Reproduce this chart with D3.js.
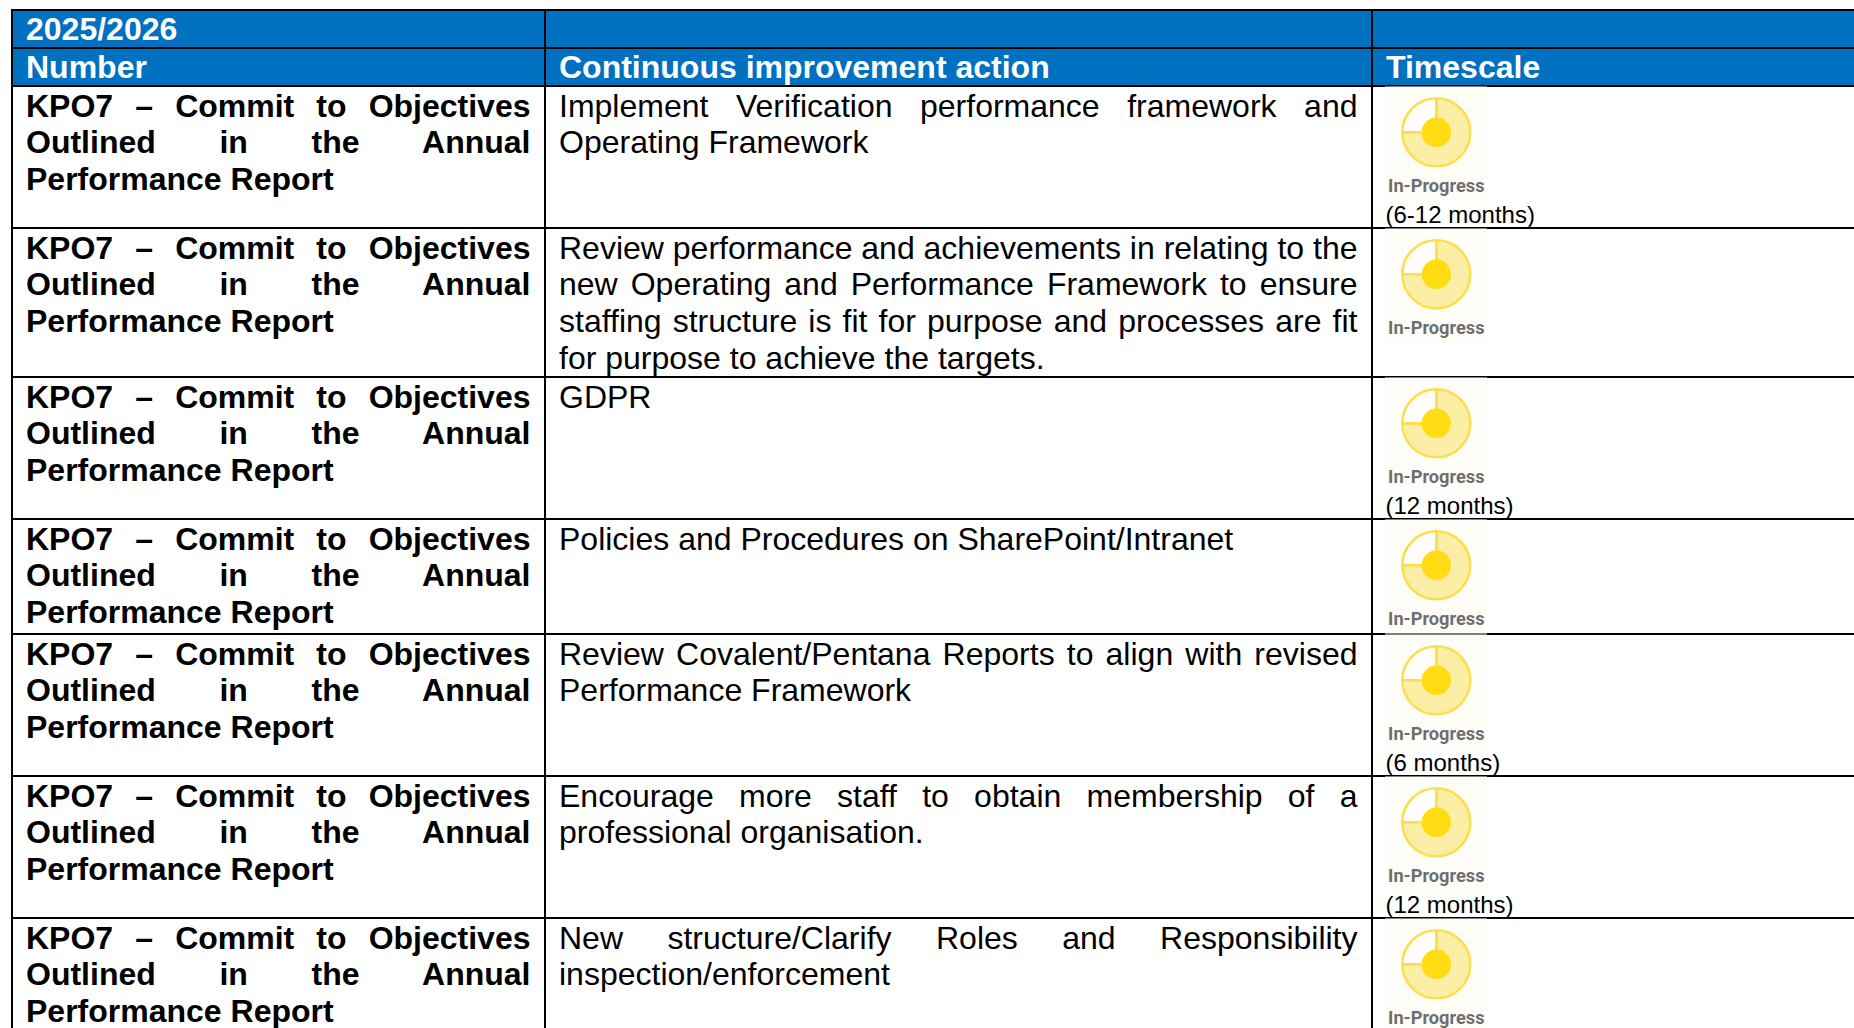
<!DOCTYPE html>
<html>
<head>
<meta charset="utf-8">
<script src="https://cdn.jsdelivr.net/npm/d3@7"></script>
<style>
html, body { margin: 0; padding: 0; background: #fff; overflow: hidden; }
svg { display: block; }
text { font-family: "Liberation Sans", Arial, sans-serif; }
</style>
</head>
<body>
<svg id="vis"></svg>
<script>
const yearLabel = '2025/2026';
const headers = ['Number', 'Continuous improvement action', 'Timescale'];
const numberLines = ['KPO7 \u2013 Commit to Objectives', 'Outlined in the Annual', 'Performance Report'];
const actions = [
  ['Implement Verification performance framework and', 'Operating Framework'],
  ['Review performance and achievements in relating to the', 'new Operating and Performance Framework to ensure', 'staffing structure is fit for purpose and processes are fit', 'for purpose to achieve the targets.'],
  ['GDPR'],
  ['Policies and Procedures on SharePoint/Intranet'],
  ['Review Covalent/Pentana Reports to align with revised', 'Performance Framework'],
  ['Encourage more staff to obtain membership of a', 'professional organisation.'],
  ['New structure/Clarify Roles and Responsibility', 'inspection/enforcement']
];
const timescales = ['(6-12 months)', '', '(12 months)', '', '(6 months)', '(12 months)', ''];
const statusLabel = 'In-Progress';
const rowKeys = ['year', 'head', 'r0', 'r1', 'r2', 'r3', 'r4', 'r5', 'r6', 'end'];
const colKeys = ['number', 'action', 'time', 'end'];

const width = 1854;
const height = 1028;
const fontSize = 32;
const lineHeight = 36.8;
const blue = '#0070c0';

const rowY = d3.scaleOrdinal().domain(rowKeys).range([10, 48, 86, 228, 377, 519, 634, 776, 918, 1060]);
const colX = d3.scaleOrdinal().domain(colKeys).range([12, 545, 1372, 1856]);
const colPad = 14;

const svg = d3.select('#vis').attr('width', width).attr('height', height).attr('viewBox', `0 0 ${width} ${height}`);

// header bands
svg.append('rect').attr('x', colX('number')).attr('y', rowY('year')).attr('width', width - colX('number')).attr('height', rowY('r0') - rowY('year')).attr('fill', blue);

const textLayer = svg.append('g');

textLayer.append('text')
  .attr('x', colX('number') + colPad)
  .attr('y', rowY('year') + 29.5)
  .attr('font-size', fontSize).attr('font-weight', 'bold').attr('fill', '#fff')
  .text(yearLabel);
textLayer.selectAll('text.head').data(headers).enter().append('text')
  .attr('class', 'head')
  .attr('x', (d, i) => colX(colKeys[i]) + colPad)
  .attr('y', rowY('head') + 29.5)
  .attr('font-size', fontSize).attr('font-weight', 'bold').attr('fill', '#fff')
  .text(d => d);

// justified paragraph, last line stays ragged
function drawPara(g, lines, x, right, top, weight) {
  lines.forEach((line, i) => {
    const t = g.append('text')
      .attr('x', x)
      .attr('y', top + 30.6 + i * lineHeight)
      .attr('font-size', fontSize)
      .attr('font-weight', weight)
      .attr('fill', '#000')
      .text(line);
    if (i < lines.length - 1) {
      const gaps = line.split(' ').length - 1;
      const extra = (right - x - t.node().getComputedTextLength()) / gaps;
      t.attr('word-spacing', extra);
    }
  });
}

const rowNames = rowKeys.slice(2, -1);
const numberRight = colX('action') - colPad - 0.5;
const actionRight = colX('time') - colPad - 0.5;

actions.forEach((lines, i) => {
  const top = rowY(rowNames[i]);
  const g = textLayer.append('g').attr('class', 'row');
  drawPara(g, numberLines, colX('number') + colPad, numberRight, top, 'bold');
  drawPara(g, lines, colX('action') + colPad, actionRight, top, 'normal');
});

// grid
svg.append('g').selectAll('line').data(rowKeys.slice(0, -1)).enter().append('line')
  .attr('x1', colX('number') - 1).attr('x2', width)
  .attr('y1', d => rowY(d)).attr('y2', d => rowY(d))
  .attr('stroke', '#000').attr('stroke-width', 2);
svg.append('g').selectAll('line').data(colKeys.slice(0, 3)).enter().append('line')
  .attr('x1', d => colX(d)).attr('x2', d => colX(d))
  .attr('y1', rowY('year') - 1).attr('y2', height)
  .attr('stroke', '#000').attr('stroke-width', 2);

// status icons
const arc = d3.arc().innerRadius(0).outerRadius(34);
const icons = svg.append('g').selectAll('g').data(rowNames).enter().append('g')
  .attr('transform', d => `translate(${colX('time')},${rowY(d)})`);
icons.append('rect').attr('x', 13).attr('y', 0.5).attr('width', 102).attr('height', 114).attr('fill', '#fffdf7');
const dial = icons.append('g').attr('transform', 'translate(64.3,46.3)');
dial.append('path').attr('d', arc({startAngle: 0, endAngle: Math.PI * 1.5}))
  .attr('fill', '#fdeea6').attr('stroke', '#fbdf4e').attr('stroke-width', 2.5);
dial.append('path').attr('d', arc({startAngle: Math.PI * 1.5, endAngle: Math.PI * 2}))
  .attr('fill', '#fffefa').attr('stroke', '#fbdf4e').attr('stroke-width', 2.5);
dial.append('circle').attr('r', 14.7).attr('fill', '#ffdc14');
icons.append('text')
  .attr('x', 64.3).attr('y', 105.5)
  .attr('text-anchor', 'middle')
  .attr('font-size', 18.2)
  .attr('font-weight', 700)
  .attr('fill', '#6e6e6e')
  .style('font-family', 'Roboto, sans-serif')
  .text(statusLabel);

// timescale note under the icon
icons.append('text')
  .attr('x', 13.5).attr('y', 136.6)
  .attr('font-size', 24)
  .attr('fill', '#000')
  .text((d, i) => timescales[i]);
</script>
</body>
</html>
